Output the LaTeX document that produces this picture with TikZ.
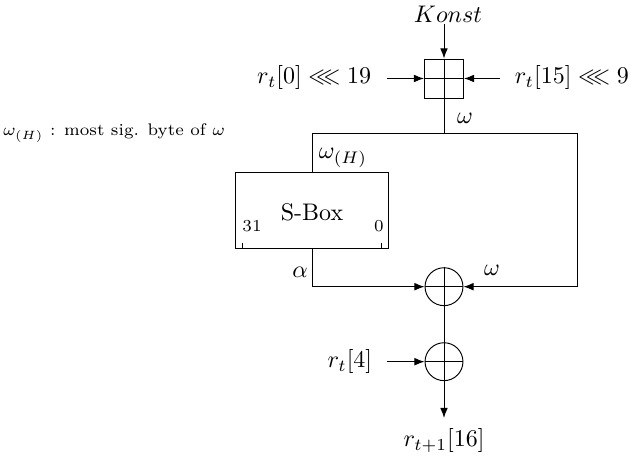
\documentclass[tikz,border=0pt]{standalone}
\usepackage{amssymb}
\usetikzlibrary{arrows.meta}
\begin{document}
\begin{tikzpicture}[x=0.41667pt,y=-0.41667pt, line width=0.4pt,
  arr/.style={-{Latex[length=4.2pt,width=3.2pt]}},
  addbox/.style={draw, minimum size=16.25pt, inner sep=0pt},
  xorc/.style={draw, circle, minimum size=15.8pt, inner sep=0pt},
  sbox/.style={draw, minimum width=63.75pt, minimum height=32pt, inner sep=0pt},
  lbl/.style={inner sep=1pt}]
\useasboundingbox (0,0) rectangle (631,460);
% modular adder
\node[addbox] (add) at (444,78.5) {};
\draw (add.north) -- (add.south) (add.west) -- (add.east);
\node[lbl] (konst) at (448,14) {$Konst$};
\coordinate (ktop) at (444,24);
\draw (konst.south -| ktop) -- (ktop);
\draw[arr] (ktop) -- (add.north);
\node[lbl, anchor=east] (l0) at (374,78) {$r_t[0] \lll 19$};
\coordinate (l0s) at (387,78.5);
\draw[arr] (l0s) -- (add.west);
\node[lbl, anchor=west] (l15) at (512,78) {$r_t[15] \lll 9$};
\coordinate (l15s) at (500,78.5);
\draw[arr] (l15s) -- (add.east);
% wires
\coordinate (wJ) at (444,133);
\coordinate (wL) at (312,133);
\coordinate (wR) at (577,133);
\draw (add.south) -- (wJ);
\node[lbl] (om1) at (465,118) {$\omega$};
% S-box
\node[sbox] (sb) at (312,210.5) {};
\node[lbl] (sbt) at (312,212) {S-Box};
\node[lbl] (b31) at (252,226) {\scriptsize 31};
\node[lbl] (b0) at (379,226) {\scriptsize 0};
\draw ([xshift=3.3pt]sb.south west) -- ++(0,-6);
\draw ([xshift=-3.3pt]sb.south east) -- ++(0,-6);
\draw (sb.north) -- (wL) -- (wR);
\node[lbl] (omh) at (343,158) {$\omega_{(H)}$};
% xors
\node[xorc] (x1) at (444,286.7) {};
\draw (x1.north) -- (x1.south) (x1.west) -- (x1.east);
\node[xorc] (x2) at (444,361.7) {};
\draw (x2.north) -- (x2.south) (x2.west) -- (x2.east);
\draw[arr] (sb.south) |- (x1.west);
\node[lbl] (al) at (300,272) {$\alpha$};
\draw[arr] (wR) |- (x1.east);
\node[lbl] (om2) at (492,270) {$\omega$};
\draw (x1.south) -- (x2.north);
\node[lbl, anchor=east] (r4) at (375,362) {$r_t[4]$};
\coordinate (r4s) at (387,361.7);
\draw[arr] (r4s) -- (x2.west);
\coordinate (oute) at (444,418);
\draw[arr] (x2.south) -- (oute);
\node[lbl] (out) at (444,441) {$r_{t+1}[16]$};
% note
\node[lbl] (note) at (114,133) {\scriptsize $\omega_{(H)}$ : most sig. byte of $\omega$};
\end{tikzpicture}
\end{document}
